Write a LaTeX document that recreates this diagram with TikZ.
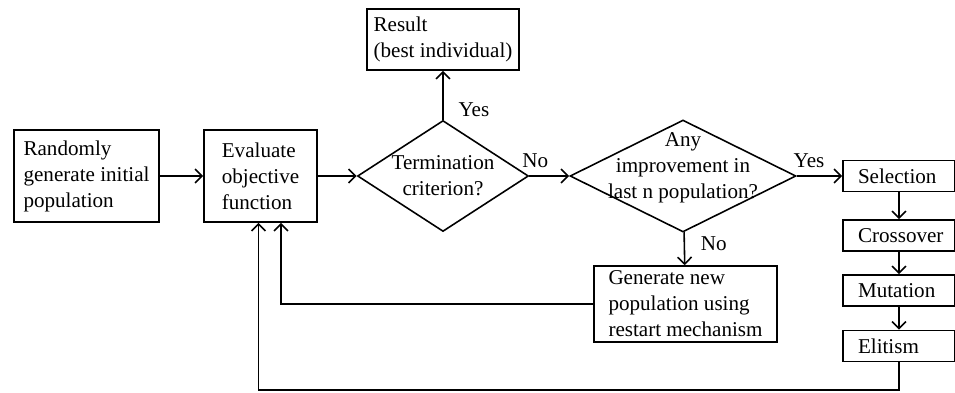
\documentclass[tikz,border=0pt]{standalone}
\usepackage{fontspec}
\setmainfont{Liberation Serif}
\usetikzlibrary{shapes.geometric,arrows.meta}

\begin{document}
\begin{tikzpicture}[
		>={Straight Barb[length=4pt,width=8pt]},
		line width=0.9pt,
		box/.style={draw, align=left, inner sep=2pt, font=\fontsize{12}{14.8}\selectfont},
		opbox/.style={box, text width=1.64cm, inner xsep=0.3cm, minimum height=0.62cm},
		test/.style={draw, diamond, inner sep=0pt},
		txt/.style={font=\fontsize{12}{14.8}\selectfont, align=center},
		lbl/.style={font=\fontsize{12}{14.8}\selectfont, inner sep=1pt}
	]
		\useasboundingbox (0,0) rectangle (19.1,7.84);
		
		%main row
		\node[box, minimum width=2.9cm, minimum height=1.84cm] (rand) at (1.73,4.32) {Randomly\\generate initial\\population};
		\node[box, minimum width=2.26cm, minimum height=1.84cm] (eval) at (5.21,4.32) {Evaluate\\objective\\function};
		\node[test, minimum width=3.42cm, minimum height=2.22cm, label={[txt]center:Termination\\criterion?}] (term) at (8.86,4.32) {};
		\node[box, minimum width=3.04cm, minimum height=1.22cm] (result) at (8.86,7.05) {Result\\(best individual)};
		\node[test, minimum width=4.52cm, minimum height=2.24cm, label={[txt, yshift=0.16cm]center:Any\\improvement in\\last n population?}] (improve) at (13.66,4.32) {};
		\node[box, minimum width=3.66cm, minimum height=1.52cm] (gen) at (13.71,1.76) {Generate new\\population using\\restart mechanism};
		
		%genetic operators
		\node[opbox] (sel) at (17.98,4.32) {Selection};
		\node[opbox] (cross) at (17.98,3.13) {Crossover};
		\node[opbox] (mut) at (17.98,2.03) {Mutation};
		\node[opbox] (elit) at (17.98,0.92) {Elitism};
		
		\draw[->] (rand) -- (eval);
		\draw[->] (eval) -- (term);
		\draw[->] (term) -- node[lbl, pos=0.2, anchor=west, xshift=0.26cm] {Yes} (result);
		\draw[->] (term) -- node[lbl, pos=0.15, anchor=south, yshift=0.12cm] {No} (improve);
		\draw[->] (improve) -- node[lbl, pos=0.27, anchor=south, yshift=0.12cm] {Yes} (sel);
		\draw[->] (improve) -- node[lbl, pos=0.35, anchor=west, xshift=0.28cm] {No} (gen);
		\draw[->] (sel) -- (cross);
		\draw[->] (cross) -- (mut);
		\draw[->] (mut) -- (elit);
		
		%loops back to evaluation
		\draw[->] (gen.west) -| ([xshift=0.41cm]eval.south);
		\coordinate (low) at (5.17,0.04);
		\draw[->] (elit.south) |- (low) -- (low |- eval.south);
		
	\end{tikzpicture}
\end{document}
